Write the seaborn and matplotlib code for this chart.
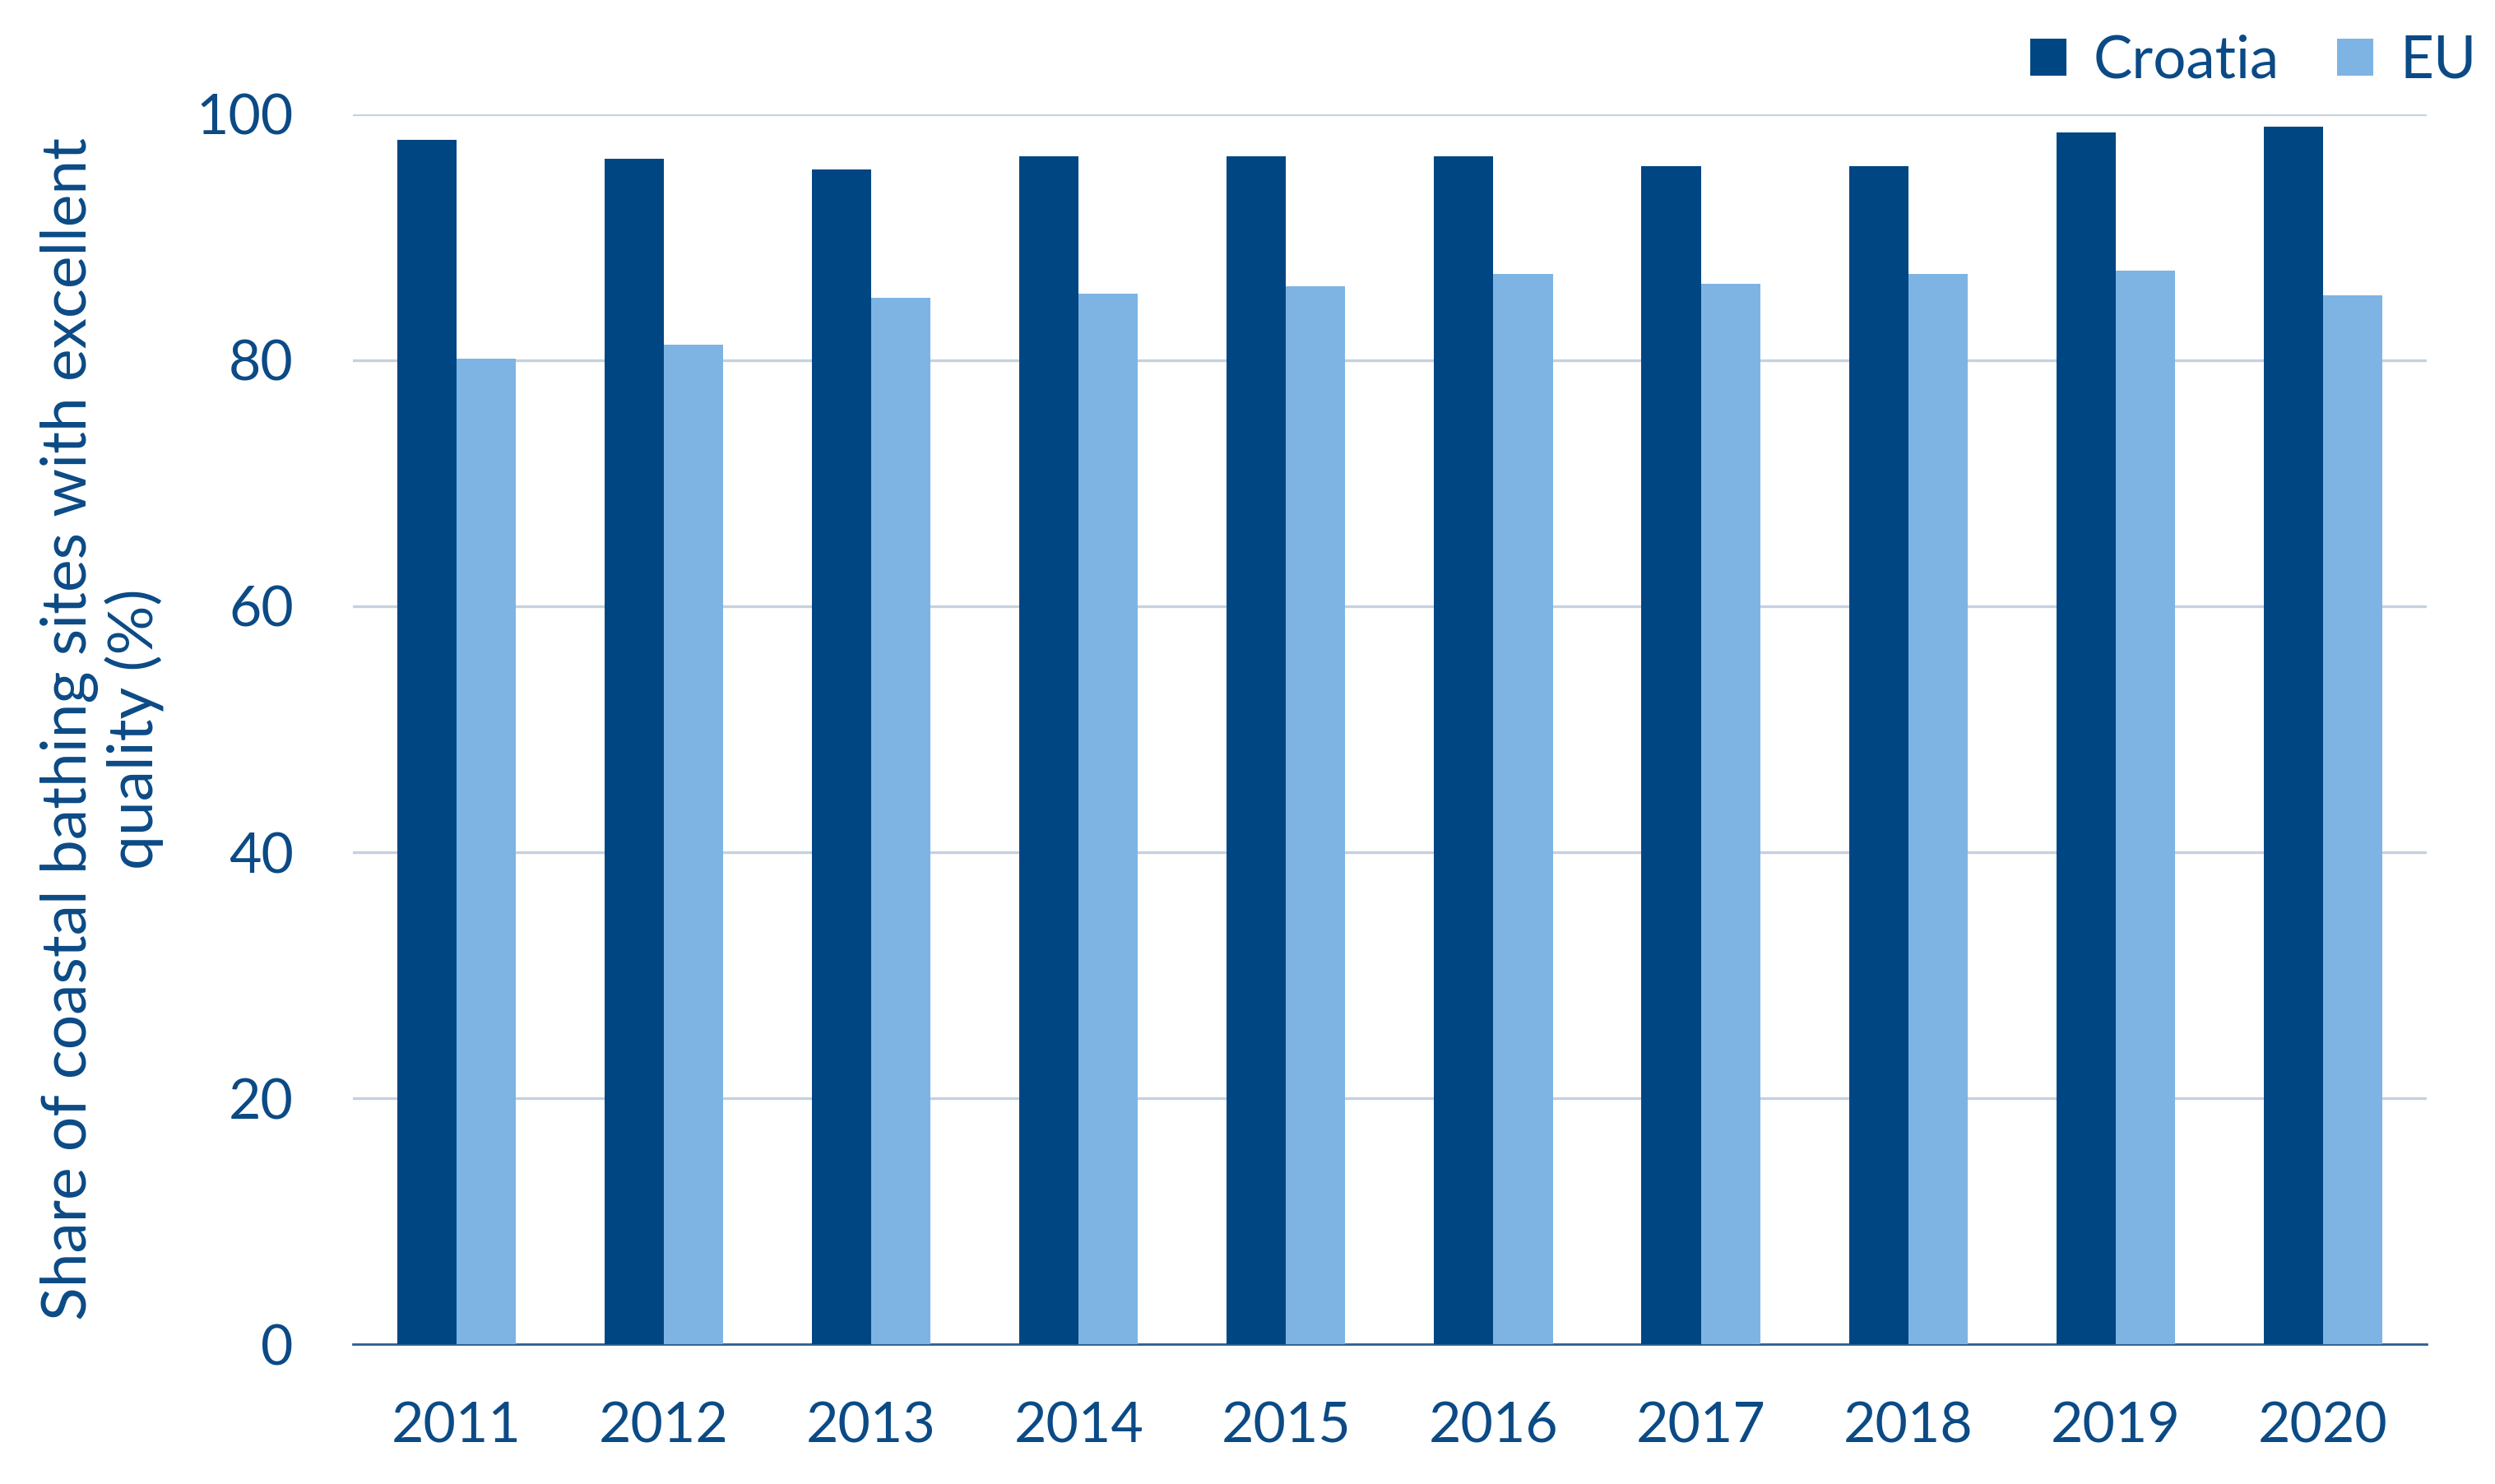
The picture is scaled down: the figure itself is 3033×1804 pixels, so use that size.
import pandas as pd
import matplotlib.pyplot as plt
import seaborn as sns
from matplotlib.ticker import FixedLocator

# Values
years = ['2011', '2012', '2013', '2014', '2015', '2016', '2017', '2018', '2019', '2020']
croatia = [97.9, 96.4, 95.5, 96.6, 96.6, 96.6, 95.8, 95.8, 98.5, 99.0]
eu = [80.1, 81.3, 85.1, 85.4, 86.0, 87.0, 86.2, 87.0, 87.3, 85.3]

df = pd.DataFrame({'Year': years * 2,
                   'Share': croatia + eu,
                   'Region': ['Croatia'] * len(years) + ['EU'] * len(years)})

text_color = '#0B4A85'
sns.set_style('white')
plt.rcParams['font.family'] = ['Lato', 'DejaVu Sans']

fig = plt.figure(figsize=(30.33, 18.04), dpi=100)
ax = fig.add_axes([0.1414, 0.0942, 0.8312, 0.8288])

sns.barplot(data=df, x='Year', y='Share', hue='Region', order=years,
            palette={'Croatia': '#004682', 'EU': '#7EB4E3'},
            width=0.572, saturation=1, linewidth=0, ax=ax, zorder=3)

ax.set_ylim(0, 100)
ax.set_xlim(-0.5, len(years) - 0.5)
ax.set_yticks([0, 20, 40, 60, 80, 100])
ax.yaxis.grid(True, color='#C5D1E0', linewidth=2.4, zorder=0)
ax.set_axisbelow(True)

for s in ['top', 'right', 'left']:
    ax.spines[s].set_visible(False)
ax.spines['bottom'].set_color('#2E5E8E')
ax.spines['bottom'].set_linewidth(2)

# boundary ticks between categories
ax.xaxis.set_minor_locator(FixedLocator([i - 0.5 for i in range(len(years) + 1)]))
ax.tick_params(axis='x', which='minor', length=17, width=2, color='#2E5E8E', direction='out')
ax.tick_params(axis='x', which='major', length=0, pad=50, labelsize=49, labelcolor=text_color)
ax.tick_params(axis='y', length=0, pad=52, labelsize=49, labelcolor=text_color)

ax.set_xlabel('')
ax.set_ylabel('Share of coastal bathing sites with excellent\nquality (%)',
              fontsize=54, color=text_color, labelpad=28, linespacing=1.12)

ax.legend(loc='lower right', bbox_to_anchor=(1.038, 0.998), ncol=2, frameon=False,
          fontsize=51, labelcolor=text_color, handlelength=0.62, handleheight=0.62,
          handletextpad=0.45, columnspacing=1.0, borderaxespad=0.1)

plt.savefig('out.png', dpi=100)
plt.close()
